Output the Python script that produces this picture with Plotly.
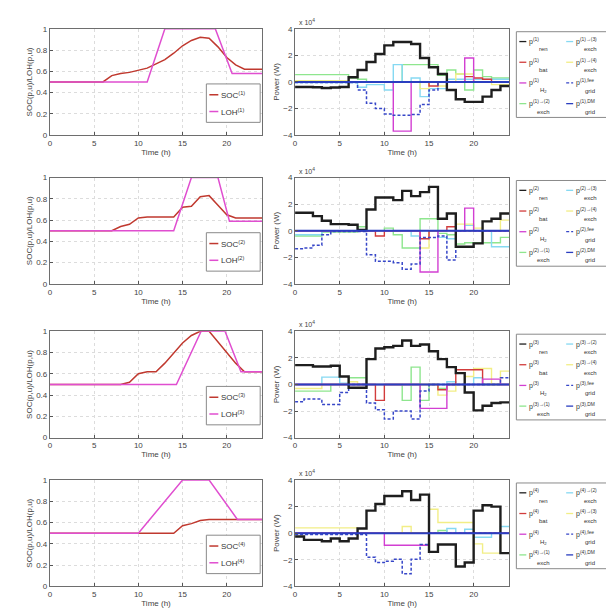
import plotly.graph_objects as go

W, H = 614, 612
hours = list(range(25))
xticks = [0, 5, 10, 15, 20]

# ---------------- left panels: SOC (hourly) and LOH (breakpoints) -------------
soc_1 = [0.5, 0.5, 0.5, 0.5, 0.5, 0.5, 0.5, 0.56, 0.58, 0.59, 0.61, 0.63, 0.67,
         0.71, 0.77, 0.84, 0.89, 0.92, 0.91, 0.83, 0.73, 0.66, 0.62, 0.62, 0.62]
soc_2 = [0.5, 0.5, 0.5, 0.5, 0.5, 0.5, 0.5, 0.5, 0.54, 0.56, 0.62, 0.63, 0.63,
         0.63, 0.63, 0.72, 0.73, 0.82, 0.83, 0.74, 0.65, 0.62, 0.62, 0.62, 0.62]
soc_3 = [0.5, 0.5, 0.5, 0.5, 0.5, 0.5, 0.5, 0.5, 0.5, 0.52, 0.6, 0.62, 0.62,
         0.7, 0.8, 0.89, 0.96, 1.0, 1.0, 0.9, 0.8, 0.7, 0.62, 0.62, 0.62]
soc_4 = [0.5, 0.5, 0.5, 0.5, 0.5, 0.5, 0.5, 0.5, 0.5, 0.5, 0.5, 0.5, 0.5,
         0.5, 0.5, 0.57, 0.59, 0.62, 0.63, 0.63, 0.63, 0.63, 0.63, 0.63, 0.63]

loh_t_1 = [0, 11, 13, 18.7, 20.6, 24]
loh_v_1 = [0.5, 0.5, 1.0, 1.0, 0.58, 0.58]
loh_t_2 = [0, 14, 16, 19.0, 20.3, 24]
loh_v_2 = [0.5, 0.5, 1.0, 1.0, 0.59, 0.59]
loh_t_3 = [0, 14.3, 17.1, 19.8, 21.6, 24]
loh_v_3 = [0.5, 0.5, 1.0, 1.0, 0.62, 0.62]
loh_t_4 = [0, 10, 15, 18, 21.2, 24]
loh_v_4 = [0.5, 0.5, 1.0, 1.0, 0.63, 0.63]

# ---------------- right panels: powers, x 10^4 W, hourly values -------------
ren_1 = [-0.38, -0.38, -0.4, -0.45, -0.42, -0.38, 0.35, 0.9, 1.5, 2.1, 2.75, 3.0,
         3.0, 2.85, 1.8, 1.1, 0.6, -0.6, -1.3, -1.5, -1.5, -1.1, -0.6, -0.3]
bat_1 = [0, 0, 0, 0, 0, 0, 0, 0, 0, 0, 0, 0, 0, 0, 0, -0.3, 0, 0, 0, 0.4, 0.3, 0.2, 0, 0]
h2_1 = [0, 0, 0, 0, 0, 0, 0, 0, 0, 0, 0, -3.7, -3.7, 0, 0, 0, 0, 0, 0, 1.8, 0, 0, 0, 0]
ex2_1 = [0.55, 0.55, 0.55, 0.55, 0.55, 0.55, 0.3, 0.2, 0, 0, 0, 0, 1.3, 1.3, 1.3, 1.3,
         0.5, 0.9, 0.6, -0.6, 0.9, 0.4, 0.3, 0.3]
ex3_1 = [-0.05, -0.05, -0.05, -0.05, -0.05, -0.05, -0.05, -0.4, -0.2, -0.2, -0.6, 1.3,
         0, 0.3, -1.1, -0.5, -0.5, 0.2, 0.2, 0.2, 0.2, 0.2, 0.2, 0.2]
ex4_1 = [0.1, 0.1, 0.1, 0.1, 0.1, 0.1, 0, 0, 0, 0, 0, 0, 0, 0, -0.5, 0, -0.3, 0, 0.6,
         0.6, 0, 0, -0.2, -0.2]
fee_1 = [-0.05, -0.05, -0.05, -0.05, -0.05, -0.05, -0.05, -0.6, -1.6, -2.0, -2.4, -2.5,
         -2.5, -2.45, -1.7, -0.6, 0, 0, 0, 0, 0, 0, 0, 0]
dm_1 = [0] * 24

ren_2 = [1.35, 1.35, 1.1, 0.75, 0.5, 0.5, 0.45, 0.05, 1.6, 2.5, 2.5, 2.3, 3.0, 2.6,
         2.9, 3.3, 0.9, 1.3, -1.2, -1.2, -0.95, 0.7, 0.9, 1.3]
bat_2 = [0, 0, 0, 0, 0, 0, 0, 0, 0, -0.4, 0, 0, 0, 0, -0.6, 0, 0, 0.3, 0, 0, 0, 0, 0, 0]
h2_2 = [0, 0, 0, 0, 0, 0, 0, 0, 0, 0, 0, 0, 0, 0, -3.1, -3.1, 0, 0, 0, 1.7, 0, 0, 0, 0]
ex1_2 = [-0.4, -0.4, -0.4, -0.1, -0.1, -0.1, -0.1, 0.3, 0, 0, 0.2, -0.3, -1.3, -1.3,
         0.9, 0.9, -0.2, -0.3, -1.0, -0.9, -0.9, -0.9, -0.9, -0.5]
ex3_2 = [-0.3, -0.3, -0.3, 0, 0, 0, 0, 0, 0, 0, 0, 0, 0, -0.4, 0, 0, -0.5, -0.6, 0,
         0.4, 0, 0, -1.2, -1.2]
ex4_2 = [0, 0, 0, 0, 0, 0, 0, 0, 0, 0, 0, 0, 0, 0, -1.3, 0, 0, 0, 0.5, 0.5, 0.2, 0, 0, 0.8]
fee_2 = [-1.35, -1.3, -1.1, -0.3, -0.05, -0.05, -0.05, -0.05, -1.8, -2.3, -2.3, -2.4,
         -2.9, -2.5, -0.5, -0.5, -0.4, -2.2, 0, 0, 0, 0, 0, 0]
dm_2 = [0] * 24

ren_3 = [1.45, 1.45, 1.35, 1.35, 1.4, 0.6, -0.25, -0.25, 1.9, 2.7, 2.8, 2.9, 3.3, 2.9,
         3.0, 2.5, 1.9, 1.3, 0.85, -0.6, -1.95, -1.6, -1.4, -1.35]
bat_3 = [0, 0, 0, 0, 0, 0, 0, 0, 0, -1.2, 0, 0, 0, 0, 0, 0, -0.4, 0, 1.1, 1.1, 1.1, 0, 0, 0]
h2_3 = [0, 0, 0, 0, 0, 0, 0, 0, 0, 0, 0, 0, 0, 0, -1.8, -1.8, -1.8, 0, 0, 0, 0, 0.4, 0.4, 0]
ex1_3 = [-0.5, -0.5, -0.5, -0.5, 0, 0, 0.5, 0.5, 0, 0, 0, 0, -1.2, 1.3, -1.2, 0, -0.3,
         0, 0, 0, 0, 0, 0, 0]
ex2_3 = [0, 0, 0, 0.55, 0.55, 0.1, 0, 0, 0, 0, 0, 0, 0, 0, 0, 0, 0, 0.2, 0, 0, 0.5, 0, 0, 0]
ex4_3 = [-0.3, -0.3, -0.3, 0, 0, 0, 0.2, 0, 0, 0, 0, 0, 0, 0, 0, 0, -0.8, -0.5, 0, 0.6,
         1.2, 1.2, 0, 1.0]
fee_3 = [-1.3, -1.1, -1.1, -1.5, -1.5, -0.6, 0, 0, -1.4, -1.9, -2.6, -2.0, -2.0, -2.6,
         -0.5, 0, 0, 0, 0, 0, 0, 0, 0, 0.5]
dm_3 = [0] * 24

ren_4 = [-0.25, -0.5, -0.5, -0.6, -0.4, -0.6, -0.4, 0.35, 1.7, 2.2, 2.8, 2.8, 3.15, 2.5,
         2.9, -1.4, -0.85, -0.85, -2.5, -2.2, 1.7, 2.1, 2.0, -1.5]
bat_4 = [0] * 24
h2_4 = [0, 0, 0, 0, 0, 0, 0, 0, 0, 0, -0.9, -0.9, -0.9, -0.9, -0.9, 0, 0, 0, 0, 0, 0, 0, 0, 0]
ex1_4 = [0, 0, 0, 0, 0, 0, 0, 0, 0, 0, 0, 0, 0, 0, 0, 0, 0.2, 0, 0, 0, 0, 0, 0, 0]
ex2_4 = [0, 0, 0, 0, 0, 0, 0, 0, 0, 0, 0, 0, 0, 0, 0, 0, 0, 0.35, 0, 0.3, -0.3, -0.3, 0, 0.5]
ex3_4 = [0.4, 0.4, 0.4, 0.4, 0.4, 0.4, 0.4, 0, 0, 0, 0, 0, 0.5, 0, 0, 1.8, 0.8, 0.8, 0.8,
         0.8, -0.8, -1.5, -1.5, 0]
fee_4 = [-0.1, -0.1, -0.1, -0.1, -0.1, -0.1, -0.1, -0.1, -1.8, -2.2, -2.1, -1.95, -3.05,
         -1.95, -0.85, 0, 0, 0, 0, 0, 0, 0, 0, 0]
dm_4 = [0] * 24

# ---------------- styling ----------------
C_REN = "#1e1e1e"
C_BAT = "#d23c3c"
C_H2 = "#d23fd2"
C_G = "#8ee68e"
C_C = "#86d9f2"
C_Y = "#f2ee86"
C_FEE = "#3646c8"
C_DM = "#2a3ec0"
C_SOC = "#c0392f"
C_LOH = "#e04ed0"
FONT = "Liberation Sans"

fig = go.Figure()

left_px = (40, 253)
right_px = (286, 501)
rows_px = [(17, 125), (168, 276), (324, 432), (475, 583)]


def fx(p):
    return p / W


def fy(p):
    return 1 - p / H


soc_list = [soc_1, soc_2, soc_3, soc_4]
loh_list = [(loh_t_1, loh_v_1), (loh_t_2, loh_v_2), (loh_t_3, loh_v_3), (loh_t_4, loh_v_4)]
power_rows = [
    [ren_1, bat_1, h2_1, ex2_1, ex3_1, ex4_1, fee_1, dm_1],
    [ren_2, bat_2, h2_2, ex1_2, ex3_2, ex4_2, fee_2, dm_2],
    [ren_3, bat_3, h2_3, ex1_3, ex2_3, ex4_3, fee_3, dm_3],
    [ren_4, bat_4, h2_4, ex1_4, ex2_4, ex3_4, fee_4, dm_4],
]
others = [[2, 3, 4], [1, 3, 4], [1, 2, 4], [1, 2, 3]]
pstyles = [
    dict(color=C_REN, width=2.4),
    dict(color=C_BAT, width=1.4),
    dict(color=C_H2, width=1.4),
    dict(color=C_G, width=1.4),
    dict(color=C_C, width=1.4),
    dict(color=C_Y, width=1.4),
    dict(color=C_FEE, width=1.5, dash="3px,2px"),
    dict(color=C_DM, width=2.0),
]
draw_order = [3, 4, 5, 1, 2, 6, 0, 7]

axis_common = dict(
    showline=True, mirror=True, linecolor="#6e6e6e", linewidth=1,
    ticks="inside", ticklen=3, tickcolor="#555", showgrid=True,
    gridcolor="#dcdcdc", griddash="dot", gridwidth=1, zeroline=False,
    tickfont=dict(size=8, color="#444", family=FONT),
)

shapes = []
annots = []

for r in range(4):
    top, bot = rows_px[r]
    ly = [fy(bot), fy(top)]
    li, ri = 2 * r + 1, 2 * r + 2
    lx_name, ly_name = ("x" if li == 1 else f"x{li}"), ("y" if li == 1 else f"y{li}")
    rx_name, ry_name = f"x{ri}", f"y{ri}"

    # left panel
    fig.add_trace(go.Scatter(x=hours, y=soc_list[r], mode="lines", xaxis=lx_name, yaxis=ly_name,
                             line=dict(color=C_SOC, width=1.5), showlegend=False))
    fig.add_trace(go.Scatter(x=loh_list[r][0], y=loh_list[r][1], mode="lines", xaxis=lx_name,
                             yaxis=ly_name, line=dict(color=C_LOH, width=1.5), showlegend=False))
    # right panel
    for k in draw_order:
        vals = power_rows[r][k]
        fig.add_trace(go.Scatter(x=hours, y=vals + [vals[-1]], mode="lines", line_shape="hv",
                                 xaxis=rx_name, yaxis=ry_name, line=pstyles[k], showlegend=False))

    xa = dict(axis_common, domain=[fx(left_px[0]), fx(left_px[1])], range=[0, 24],
              tickvals=xticks, anchor=ly_name,
              title=dict(text="Time (h)", font=dict(size=8, color="#444", family=FONT), standoff=2))
    ya = dict(axis_common, domain=ly, range=[0, 1], tickvals=[0, 0.2, 0.4, 0.6, 0.8, 1],
              ticktext=["0", "0.2", "0.4", "0.6", "0.8", "1"], anchor=lx_name,
              title=dict(text="SOC(p,u)/LOH(p,u)", font=dict(size=8, color="#444", family=FONT),
                         standoff=2))
    xb = dict(axis_common, domain=[fx(right_px[0]), fx(right_px[1])], range=[0, 24],
              tickvals=xticks, anchor=ry_name,
              title=dict(text="Time (h)", font=dict(size=8, color="#444", family=FONT), standoff=2))
    yb = dict(axis_common, domain=ly, range=[-4, 4], tickvals=[-4, -2, 0, 2, 4], anchor=rx_name,
              title=dict(text="Power (W)", font=dict(size=8, color="#444", family=FONT), standoff=2))
    fig.layout["xaxis" if li == 1 else f"xaxis{li}"] = xa
    fig.layout["yaxis" if li == 1 else f"yaxis{li}"] = ya
    fig.layout[f"xaxis{ri}"] = xb
    fig.layout[f"yaxis{ri}"] = yb

    # x 10^4 multiplier
    annots.append(dict(x=fx(right_px[0] + 2), y=fy(top - 1), xref="paper", yref="paper",
                       text="x 10<sup>4</sup>", showarrow=False, xanchor="left", yanchor="bottom",
                       font=dict(size=7, color="#444", family=FONT)))

    # left legend (manual box)
    bx0, bx1, by0, by1 = 197, 251, top + 56, top + 95
    shapes.append(dict(type="rect", xref="paper", yref="paper", x0=fx(bx0), x1=fx(bx1),
                       y0=fy(by1), y1=fy(by0), line=dict(color="#8a8a8a", width=1),
                       fillcolor="white", layer="above"))
    for j, (lab, col) in enumerate([("SOC", C_SOC), ("LOH", C_LOH)]):
        yy = by0 + 11 + j * 17
        shapes.append(dict(type="line", xref="paper", yref="paper", x0=fx(bx0 + 3), x1=fx(bx0 + 12),
                           y0=fy(yy), y1=fy(yy), line=dict(color=col, width=1.5), layer="above"))
        annots.append(dict(x=fx(bx0 + 13), y=fy(yy), xref="paper", yref="paper",
                           text=f"{lab}<sup>({r + 1})</sup>", showarrow=False, xanchor="left",
                           yanchor="middle", font=dict(size=8, color="#333", family=FONT)))

    # right legend (manual box, two columns)
    p = r + 1
    o = others[r]
    labels = [
        (f"p<sup>({p})</sup>", "ren"),
        (f"p<sup>({p})</sup>", "bat"),
        (f"p<sup>({p})</sup>", "H<sub>2</sub>"),
        (f"p<sup>({p})→({o[0]})</sup>", "exch"),
        (f"p<sup>({p})→({o[1]})</sup>", "exch"),
        (f"p<sup>({p})→({o[2]})</sup>", "exch"),
        (f"p<sup>({p}),fee</sup>", "grid"),
        (f"p<sup>({p}),DM</sup>", "grid"),
    ]
    rx0, rx1, ry0, ry1 = 508, 607, top + 3, top + 90
    shapes.append(dict(type="rect", xref="paper", yref="paper", x0=fx(rx0), x1=fx(rx1),
                       y0=fy(ry1), y1=fy(ry0), line=dict(color="#8a8a8a", width=1),
                       fillcolor="white", layer="above"))
    for k in range(8):
        col_i, row_i = k // 4, k % 4
        lx0 = rx0 + 3 + col_i * 47
        yy = ry0 + 10 + row_i * 21
        st = pstyles[k]
        shapes.append(dict(type="line", xref="paper", yref="paper", x0=fx(lx0), x1=fx(lx0 + 7),
                           y0=fy(yy), y1=fy(yy),
                           line=dict(color=st["color"], width=1.3, dash=st.get("dash", "solid")),
                           layer="above"))
        main, sub = labels[k]
        annots.append(dict(x=fx(lx0 + 8), y=fy(yy), xref="paper", yref="paper", text=main,
                           showarrow=False, xanchor="left", yanchor="middle",
                           font=dict(size=7, color="#333", family=FONT)))
        annots.append(dict(x=fx(lx0 + 24), y=fy(yy + 8), xref="paper", yref="paper", text=sub,
                           showarrow=False, xanchor="center", yanchor="middle",
                           font=dict(size=6, color="#333", family=FONT)))

fig.update_layout(
    width=W, height=H, margin=dict(l=0, r=0, t=0, b=0),
    paper_bgcolor="white", plot_bgcolor="white", showlegend=False,
    shapes=shapes, annotations=annots, font=dict(family=FONT),
)

fig.write_html("out.html")
